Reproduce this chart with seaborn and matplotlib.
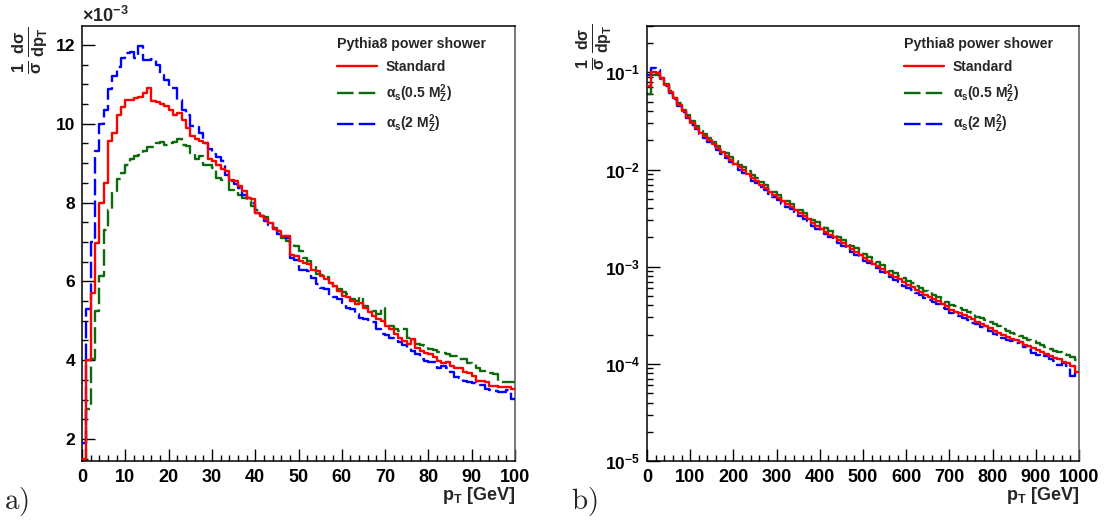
import numpy as np
import pandas as pd
import matplotlib
matplotlib.use("Agg")
import matplotlib.pyplot as plt
import seaborn as sns
from matplotlib.ticker import MultipleLocator, LogLocator, FuncFormatter, NullFormatter
from matplotlib.lines import Line2D

# ---------------- data ----------------
# panel a): 1 GeV bins, 0..100 GeV, values in units of 1e-3
left_edges = list(range(0, 101, 1))
left_standard = [
    1.5, 4.0, 5.7, 6.98, 7.99, 8.5, 9.55, 9.76, 10.23, 10.42,
    10.6, 10.6, 10.65, 10.69, 10.79, 10.9, 10.57, 10.54, 10.5, 10.46,
    10.35, 10.23, 10.27, 10.1, 9.89, 9.68, 9.6, 9.55, 9.5, 9.1,
    9.05, 8.96, 8.84, 8.79, 8.58, 8.54, 8.41, 8.29, 8.12, 8.08,
    7.74, 7.67, 7.57, 7.49, 7.32, 7.28, 7.15, 7.15, 6.68, 6.64,
    6.52, 6.47, 6.43, 6.3, 6.26, 6.14, 6.07, 5.97, 5.88, 5.76,
    5.63, 5.61, 5.5, 5.42, 5.46, 5.33, 5.21, 5.12, 5.05, 5.0,
    4.87, 4.78, 4.66, 4.57, 4.49, 4.41, 4.53, 4.32, 4.24, 4.19,
    4.15, 4.07, 3.98, 3.92, 3.96, 3.86, 3.81, 3.79, 3.69, 3.67,
    3.6, 3.48, 3.46, 3.45, 3.35, 3.35, 3.33, 3.31, 3.31, 3.27]
left_as05 = [
    1.45, 2.76, 4.03, 5.25, 6.13, 7.3, 7.8, 8.3, 8.6, 8.75,
    8.95, 9.1, 9.17, 9.2, 9.3, 9.4, 9.42, 9.5, 9.53, 9.47,
    9.5, 9.53, 9.6, 9.47, 9.43, 9.25, 9.1, 9.17, 8.96, 8.96,
    8.88, 8.62, 8.58, 8.58, 8.33, 8.29, 8.18, 8.12, 8.03, 7.91,
    7.82, 7.67, 7.64, 7.49, 7.36, 7.28, 7.11, 7.02, 6.98, 6.9,
    6.77, 6.6, 6.52, 6.39, 6.18, 6.16, 6.12, 5.97, 5.84, 5.8,
    5.73, 5.67, 5.54, 5.5, 5.59, 5.38, 5.29, 5.25, 5.16, 5.33,
    4.91, 4.87, 4.78, 4.74, 4.78, 4.57, 4.52, 4.41, 4.38, 4.36,
    4.28, 4.26, 4.21, 4.19, 4.15, 4.11, 4.11, 4.03, 4.04, 3.92,
    3.9, 3.81, 3.73, 3.67, 3.67, 3.65, 3.44, 3.44, 3.44, 3.44]
left_as2 = [
    1.9, 5.3, 7.0, 9.3, 10.0, 10.35, 10.88, 11.2, 11.45, 11.66,
    11.79, 11.83, 11.66, 11.96, 11.62, 11.62, 11.64, 11.49, 11.24, 11.12,
    10.9, 10.9, 10.61, 10.35, 10.23, 9.95, 9.92, 9.76, 9.5, 9.36,
    9.24, 9.15, 9.05, 8.71, 8.54, 8.46, 8.37, 8.2, 8.12, 7.99,
    7.74, 7.65, 7.53, 7.44, 7.32, 7.19, 7.15, 7.11, 6.6, 6.54,
    6.3, 6.3, 6.26, 6.09, 5.92, 5.84, 5.8, 5.63, 5.59, 5.55,
    5.46, 5.33, 5.29, 5.17, 5.08, 5.05, 5.02, 4.97, 4.78, 4.66,
    4.63, 4.57, 4.55, 4.45, 4.38, 4.32, 4.24, 4.15, 4.04, 3.98,
    3.96, 3.94, 3.79, 3.84, 3.79, 3.69, 3.56, 3.54, 3.48, 3.44,
    3.42, 3.39, 3.37, 3.27, 3.25, 3.22, 3.2, 3.2, 3.25, 3.01]

# panel b): 10 GeV bins, 0..1000 GeV
right_edges = list(range(0, 1001, 10))
right_standard = [
    7.2e-2, 1.0e-1, 9.8e-2, 8.7e-2, 7.4e-2, 6.3e-2, 5.4e-2, 4.6e-2, 4.0e-2, 3.5e-2,
    3.0e-2, 2.7e-2, 2.4e-2, 2.2e-2, 2.0e-2, 1.82e-2, 1.66e-2, 1.51e-2, 1.38e-2, 1.26e-2,
    1.15e-2, 1.05e-2, 9.8e-3, 8.9e-3, 8.1e-3, 7.6e-3, 6.9e-3, 6.5e-3, 5.9e-3, 5.5e-3,
    5.1e-3, 4.7e-3, 4.4e-3, 4.1e-3, 3.8e-3, 3.55e-3, 3.3e-3, 3.1e-3, 2.8e-3, 2.6e-3,
    2.45e-3, 2.3e-3, 2.14e-3, 2.0e-3, 1.86e-3, 1.74e-3, 1.62e-3, 1.51e-3, 1.41e-3, 1.32e-3,
    1.23e-3, 1.15e-3, 1.07e-3, 1.02e-3, 9.5e-4, 8.9e-4, 8.3e-4, 7.9e-4, 7.4e-4, 6.9e-4,
    6.5e-4, 6.2e-4, 5.75e-4, 5.5e-4, 5.1e-4, 4.9e-4, 4.6e-4, 4.4e-4, 4.1e-4, 3.9e-4,
    3.6e-4, 3.45e-4, 3.3e-4, 3.15e-4, 3.05e-4, 2.9e-4, 2.7e-4, 2.57e-4, 2.45e-4, 2.35e-4,
    2.2e-4, 2.1e-4, 2.0e-4, 1.9e-4, 1.82e-4, 1.74e-4, 1.66e-4, 1.58e-4, 1.51e-4, 1.45e-4,
    1.38e-4, 1.32e-4, 1.26e-4, 1.2e-4, 1.15e-4, 1.12e-4, 1.05e-4, 1.02e-4, 9.5e-5, 8.3e-5]
right_as05 = [
    6.0e-2, 9.3e-2, 9.4e-2, 8.6e-2, 7.5e-2, 6.4e-2, 5.5e-2, 4.8e-2, 4.1e-2, 3.6e-2,
    3.15e-2, 2.8e-2, 2.5e-2, 2.3e-2, 2.1e-2, 1.92e-2, 1.76e-2, 1.6e-2, 1.47e-2, 1.34e-2,
    1.23e-2, 1.12e-2, 1.05e-2, 9.6e-3, 8.7e-3, 8.1e-3, 7.4e-3, 6.9e-3, 6.3e-3, 5.9e-3,
    5.5e-3, 5.05e-3, 4.75e-3, 4.4e-3, 4.1e-3, 3.85e-3, 3.55e-3, 3.35e-3, 3.05e-3, 2.85e-3,
    2.65e-3, 2.5e-3, 2.33e-3, 2.18e-3, 2.02e-3, 1.9e-3, 1.77e-3, 1.65e-3, 1.54e-3, 1.44e-3,
    1.35e-3, 1.26e-3, 1.18e-3, 1.12e-3, 1.04e-3, 9.8e-4, 9.1e-4, 8.7e-4, 8.1e-4, 7.6e-4,
    7.2e-4, 6.8e-4, 6.35e-4, 6.1e-4, 5.65e-4, 5.45e-4, 5.1e-4, 4.9e-4, 4.6e-4, 4.35e-4,
    4.05e-4, 3.9e-4, 3.75e-4, 3.55e-4, 3.4e-4, 3.3e-4, 3.05e-4, 2.95e-4, 2.8e-4, 2.7e-4,
    2.55e-4, 2.45e-4, 2.3e-4, 2.2e-4, 2.1e-4, 2.05e-4, 1.95e-4, 1.85e-4, 1.78e-4, 1.7e-4,
    1.62e-4, 1.55e-4, 1.48e-4, 1.42e-4, 1.36e-4, 1.32e-4, 1.26e-4, 1.22e-4, 1.18e-4, 1.1e-4]
right_as2 = [
    9.3e-2, 1.1e-1, 1.05e-1, 8.8e-2, 7.3e-2, 6.2e-2, 5.3e-2, 4.5e-2, 3.9e-2, 3.4e-2,
    2.9e-2, 2.6e-2, 2.3e-2, 2.1e-2, 1.9e-2, 1.74e-2, 1.58e-2, 1.44e-2, 1.31e-2, 1.2e-2,
    1.09e-2, 1.0e-2, 9.3e-3, 8.5e-3, 7.7e-3, 7.2e-3, 6.6e-3, 6.1e-3, 5.6e-3, 5.2e-3,
    4.85e-3, 4.45e-3, 4.15e-3, 3.9e-3, 3.6e-3, 3.35e-3, 3.1e-3, 2.92e-3, 2.65e-3, 2.45e-3,
    2.3e-3, 2.17e-3, 2.0e-3, 1.88e-3, 1.75e-3, 1.63e-3, 1.52e-3, 1.42e-3, 1.32e-3, 1.24e-3,
    1.15e-3, 1.08e-3, 1.0e-3, 9.6e-4, 8.9e-4, 8.4e-4, 7.8e-4, 7.3e-4, 6.9e-4, 6.4e-4,
    6.1e-4, 5.75e-4, 5.4e-4, 5.1e-4, 4.8e-4, 4.55e-4, 4.3e-4, 4.1e-4, 3.8e-4, 3.65e-4,
    3.35e-4, 3.2e-4, 3.1e-4, 2.95e-4, 2.8e-4, 2.65e-4, 2.55e-4, 2.4e-4, 2.3e-4, 2.2e-4,
    2.05e-4, 1.97e-4, 1.86e-4, 1.78e-4, 1.7e-4, 1.62e-4, 1.66e-4, 1.5e-4, 1.38e-4, 1.3e-4,
    1.22e-4, 1.18e-4, 1.2e-4, 1.12e-4, 1.08e-4, 9.8e-5, 1.02e-4, 9.5e-5, 7.5e-5, 8.0e-5]

series_labels = ["Standard", r"$\alpha_{s}$(0.5 M$_{Z}^{2}$)", r"$\alpha_{s}$(2 M$_{Z}^{2}$)"]
legend_title = "Pythia8 power shower"

# ---------------- style ----------------
sns.set_theme(style="white")
plt.rcParams["font.family"] = ["Liberation Sans", "DejaVu Sans"]
plt.rcParams["font.weight"] = "bold"
plt.rcParams["mathtext.fontset"] = "custom"
plt.rcParams["mathtext.rm"] = "Liberation Sans:bold"
plt.rcParams["mathtext.it"] = "Liberation Sans:bold"
plt.rcParams["mathtext.bf"] = "Liberation Sans:bold"
plt.rcParams["mathtext.sf"] = "Liberation Sans"

C_RED = "#ff0000"
C_GREEN = "#0b6b0b"
C_BLUE = "#0000ff"
DASH = (0, (7, 2.2))
LW = 1.7

W, H = 1104, 521
fig = plt.figure(figsize=(W / 100, H / 100), dpi=100)
fig.patch.set_facecolor("white")


def ax_rect(x0, y0, x1, y1):
    return [x0 / W, 1 - y1 / H, (x1 - x0) / W, (y1 - y0) / H]


axL = fig.add_axes(ax_rect(82, 26, 515, 461))
axR = fig.add_axes(ax_rect(647, 26, 1079, 461))


def draw(ax, edges, vals, color, ls, z):
    centers = [(a + b) / 2 for a, b in zip(edges[:-1], edges[1:])]
    df = pd.DataFrame({"pt": centers, "w": vals})
    sns.histplot(data=df, x="pt", weights="w", bins=edges, element="step", fill=False,
                 color=color, linestyle=ls, linewidth=LW, ax=ax, zorder=z)


for ax, edges, std, a05, a2, lx in [(axL, left_edges, left_standard, left_as05, left_as2, 0.573),
                                    (axR, right_edges, right_standard, right_as05, right_as2, 0.579)]:
    draw(ax, edges, a05, C_GREEN, DASH, 2)
    draw(ax, edges, a2, C_BLUE, DASH, 3)
    draw(ax, edges, std, C_RED, "-", 4)
    ax.set_xlabel("")
    ax.set_ylabel("")
    ax.set_facecolor("white")
    for s in ["left", "bottom", "top"]:
        ax.spines[s].set_color("black")
        ax.spines[s].set_linewidth(1.1)
    ax.spines["right"].set_color("#555555")
    ax.spines["right"].set_linewidth(1.1)
    ax.tick_params(which="both", direction="in", left=True, bottom=True, top=False, right=False,
                   colors="black")
    ax.tick_params(axis="x", labelsize=13, pad=6)
    ax.tick_params(axis="y", labelsize=12.5, pad=5)
    ax.tick_params(which="major", length=9, width=1.0)
    ax.tick_params(which="minor", length=4.5, width=1.0)
    handles = [Line2D([], [], color=C_RED, lw=LW, ls="-"),
               Line2D([], [], color=C_GREEN, lw=LW, ls=DASH),
               Line2D([], [], color=C_BLUE, lw=LW, ls=DASH)]
    leg = ax.legend(handles, series_labels, title=legend_title, loc="upper left",
                    bbox_to_anchor=(lx, 0.99), frameon=False, fontsize=10,
                    title_fontsize=10.2, handlelength=2.9, handletextpad=0.6,
                    labelspacing=0.6, borderpad=0.0, alignment="left")
    leg.get_title().set_fontweight("bold")

# left axis
axL.set_xlim(0, 100)
axL.set_ylim(1.44, 12.48)
axL.xaxis.set_major_locator(MultipleLocator(10))
axL.xaxis.set_minor_locator(MultipleLocator(2))
axL.yaxis.set_major_locator(MultipleLocator(2))
axL.yaxis.set_minor_locator(MultipleLocator(0.5))

# right axis
axR.set_yscale("log")
axR.set_xlim(0, 1000)
axR.set_ylim(1e-5, 0.3)
axR.xaxis.set_major_locator(MultipleLocator(100))
axR.xaxis.set_minor_locator(MultipleLocator(20))
axR.yaxis.set_major_locator(LogLocator(base=10, numticks=10))
axR.yaxis.set_minor_locator(LogLocator(base=10, subs=np.arange(2, 10), numticks=20))
axR.yaxis.set_minor_formatter(NullFormatter())
axR.yaxis.set_major_formatter(FuncFormatter(lambda v, p: r"$10^{%d}$" % int(round(np.log10(v)))))

for ax in (axL, axR):
    for lab in ax.get_xticklabels() + ax.get_yticklabels():
        lab.set_fontweight("bold")

# axis titles and annotations
ylab = r"$\frac{1}{\sigma}\,\frac{d\sigma}{dp_{T}}$"
fig.text(30 / W, 1 - 27 / H, ylab, rotation=90, ha="center", va="top", fontsize=17)
fig.text(594 / W, 1 - 24 / H, ylab, rotation=90, ha="center", va="top", fontsize=16.5)
fig.text(515 / W, 1 - 495 / H, r"p$_{T}$ [GeV]", ha="right", va="center", fontsize=13, fontweight="bold")
fig.text(1079 / W, 1 - 495 / H, r"p$_{T}$ [GeV]", ha="right", va="center", fontsize=13, fontweight="bold")
fig.text(82 / W, 1 - 22 / H, r"$\mathsf{\times 10^{-3}}$", ha="left", va="baseline", fontsize=13)
fig.text(4 / W, 1 - 502 / H, r"$\mathrm{a)}$", ha="left", va="center", fontsize=21, math_fontfamily="cm")
fig.text(571 / W, 1 - 502 / H, r"$\mathrm{b)}$", ha="left", va="center", fontsize=21, math_fontfamily="cm")

fig.savefig("out.png", dpi=100, facecolor="white")
